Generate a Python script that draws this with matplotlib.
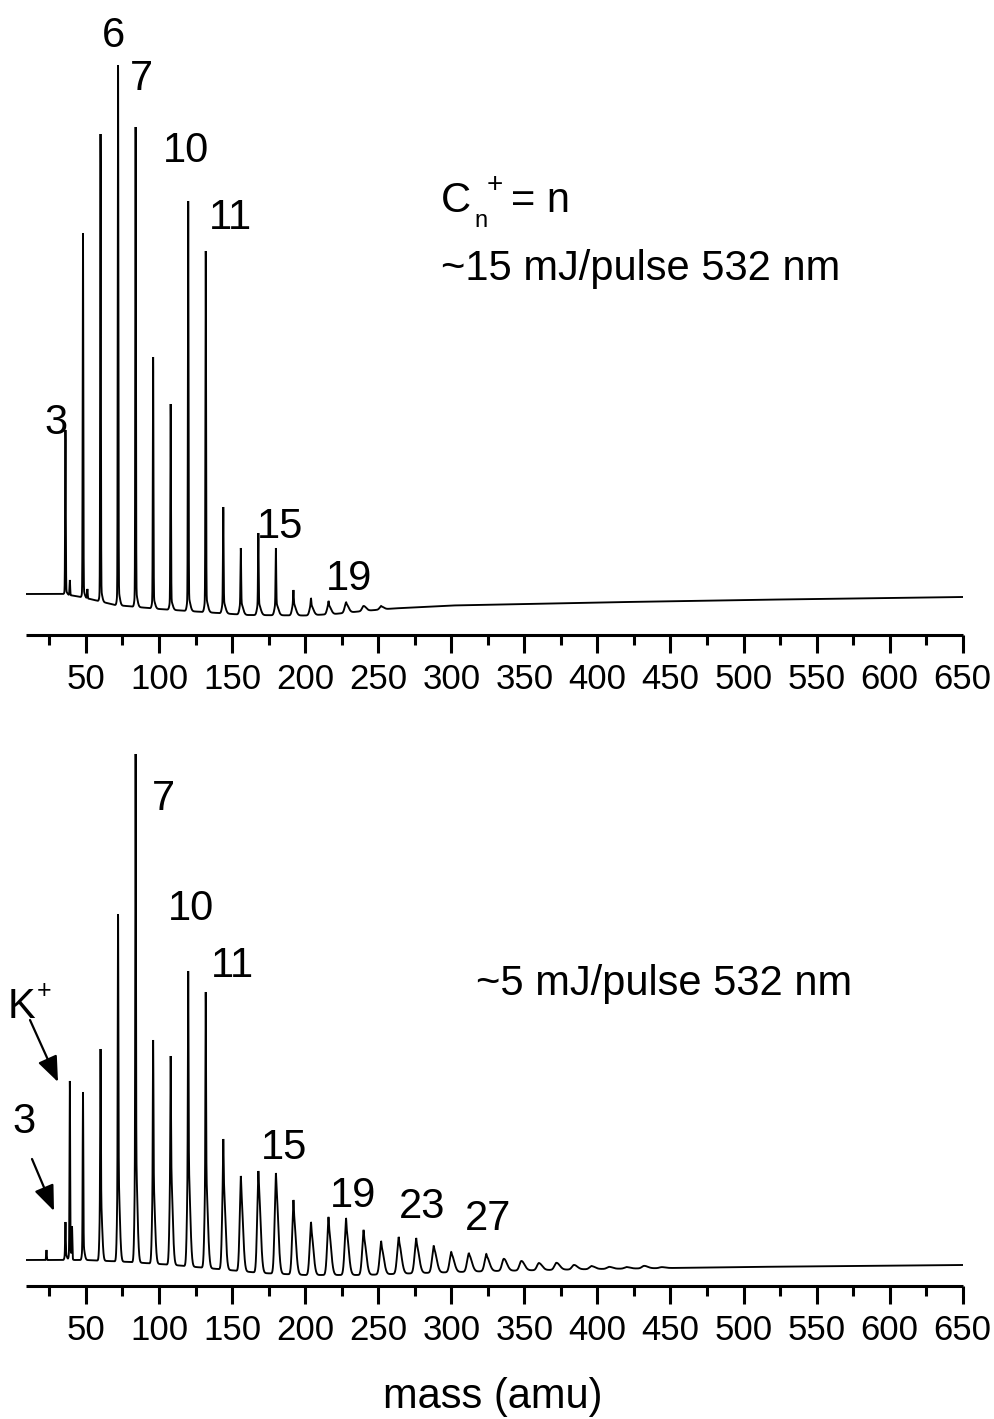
import numpy as np
import matplotlib
matplotlib.use("Agg")
import matplotlib.pyplot as plt
from matplotlib.ticker import FixedLocator
from matplotlib.patches import FancyArrowPatch

plt.rcParams['font.family'] = ['Liberation Sans', 'DejaVu Sans']

# ---------------- data (intensity in arbitrary units) ----------------
x_major = [50, 100, 150, 200, 250, 300, 350, 400, 450, 500, 550, 600, 650]
x_minor = [25, 75, 125, 175, 225, 275, 325, 375, 425, 475, 525, 575, 625]

# top spectrum (~15 mJ/pulse)
top_mass = [36, 39, 48, 51, 60, 72, 84, 96, 108, 120, 132, 144, 156, 168,
            180, 192, 204, 216, 228, 240, 252]
top_peak = [205, 55, 402, 46, 501, 570, 508, 278, 231, 434, 384, 128, 87, 102,
            87, 45, 37, 34, 33, 29, 29]
top_broad = [4, 0, 8, 0, 12, 15, 15, 10, 10, 14, 14, 12, 12, 12,
             12, 12, 10, 9, 9, 5, 3]
top_base_m = [9, 35, 50, 70, 100, 130, 160, 200, 220, 240, 260, 280, 300, 350,
              400, 500, 650]
top_base_v = [41, 41, 37, 30, 26, 23, 20, 19.5, 21, 24, 26.5, 28, 29.5, 31,
              32.5, 35, 38]

# bottom spectrum (~5 mJ/pulse)
bot_mass = [23, 36, 39, 40.5, 48, 60, 72, 84, 96, 108, 120, 132, 144, 156,
            168, 180, 192, 204, 216, 228, 240, 252, 264, 276, 288, 300, 312,
            324, 336, 348, 360, 372, 384, 396, 408, 420, 432, 444]
bot_peak = [36, 64, 205, 57, 194, 237, 372, 532, 246, 230, 315, 294, 147, 110,
            115, 113, 86, 64, 69, 68, 56, 45, 49, 48, 40, 34, 33,
            32, 27, 25, 23, 23, 21, 20, 19, 19, 20, 18]
bot_broad = [0, 6, 10, 0, 15, 65, 90, 110, 85, 100, 105, 95, 90, 82,
             90, 90, 62, 45, 48, 47, 38, 28, 32, 30, 24, 18, 17,
             15, 12, 9.5, 7, 7, 4.5, 3, 2, 1.5, 2.5, 1]
bot_base_m = [9, 30, 50, 80, 110, 140, 170, 200, 240, 280, 330, 400, 500, 650]
bot_base_v = [26, 26, 26, 24, 21, 17, 13, 11, 11, 13, 15, 17, 19, 21]

W, H = 995, 1419
fig = plt.figure(figsize=(W / 100, H / 100), dpi=100)

grid = np.arange(9, 650.001, 0.04)


def spectrum(masses, tops, broads, bm, bv):
    base = np.interp(grid, bm, bv)
    y = base.copy()
    for m, t, b in zip(masses, tops, broads):
        sb = 0.6 + 0.0032 * m
        sl, sr = 0.75 * sb, 1.25 * sb
        d = grid - m
        s = np.where(d < 0, sl, sr)
        y += b * np.exp(-0.5 * (d / s) ** 2)
        narrow = max(t - np.interp(m, bm, bv) - b, 0)
        y += narrow * np.exp(-0.5 * (d / 0.22) ** 2)
    return y


def make_ax(bottom_px):
    ax = fig.add_axes([26 / W, 1 - bottom_px / H, (962.7 - 26) / W, 635 / H])
    ax.set_xlim(9, 650)
    ax.set_ylim(0, 635)
    for s in ['top', 'left', 'right']:
        ax.spines[s].set_visible(False)
    ax.spines['bottom'].set_linewidth(2.2)
    ax.spines['bottom'].set_capstyle('butt')
    ax.set_yticks([])
    ax.xaxis.set_major_locator(FixedLocator(x_major))
    ax.xaxis.set_minor_locator(FixedLocator(x_minor))
    ax.tick_params(axis='x', which='major', length=13, width=2.2,
                   labelsize=25, pad=7.5, direction='out')
    ax.tick_params(axis='x', which='minor', length=7.2, width=2.2,
                   direction='out')
    ax.patch.set_visible(False)
    return ax


ax1 = make_ax(635)
ax1.plot(grid, spectrum(top_mass, top_peak, top_broad, top_base_m, top_base_v),
         color='black', lw=1.35, solid_joinstyle='miter')
ax2 = make_ax(1286)
ax2.plot(grid, spectrum(bot_mass, bot_peak, bot_broad, bot_base_m, bot_base_v),
         color='black', lw=1.35, solid_joinstyle='miter')


def ftext(x, y, s, size=30, ha='center', va='baseline'):
    fig.text(x / W, 1 - y / H, s, fontsize=size, ha=ha, va=va)


# top panel labels
ftext(114, 47, '6')
ftext(141.5, 90, '7')
ftext(186.5, 162, '10')
ftext(230, 229, '11')
ftext(56, 434, '3')
ftext(280, 538, '15')
ftext(349, 590, '19')
ftext(441, 212, 'C', ha='left')
ftext(474, 227, 'n', size=17, ha='left')
ftext(495, 185, '+', size=20, va='center')
ftext(511, 212, '= n', ha='left')
ftext(441, 280, '~15 mJ/pulse 532 nm', ha='left')

# bottom panel labels
ftext(163, 810, '7')
ftext(191, 920, '10')
ftext(232, 977, '11')
ftext(8, 1018, 'K', ha='left')
ftext(44, 991, '+', size=18, va='center')
ftext(24.5, 1133, '3')
ftext(284, 1159, '15')
ftext(353, 1207, '19')
ftext(422, 1218, '23')
ftext(488, 1230, '27')
ftext(476, 995, '~5 mJ/pulse 532 nm', ha='left')
ftext(493, 1408, 'mass (amu)')


def farrow(x1, y1, x2, y2):
    a = FancyArrowPatch((x1 / W, 1 - y1 / H), (x2 / W, 1 - y2 / H),
                        transform=fig.transFigure,
                        arrowstyle='-|>,head_length=0.6,head_width=0.24',
                        mutation_scale=26, lw=1.6, color='black',
                        shrinkA=0, shrinkB=0)
    fig.add_artist(a)


farrow(30, 1020, 58, 1082)
farrow(32, 1159, 54, 1211)

fig.savefig('out.png', dpi=100)
